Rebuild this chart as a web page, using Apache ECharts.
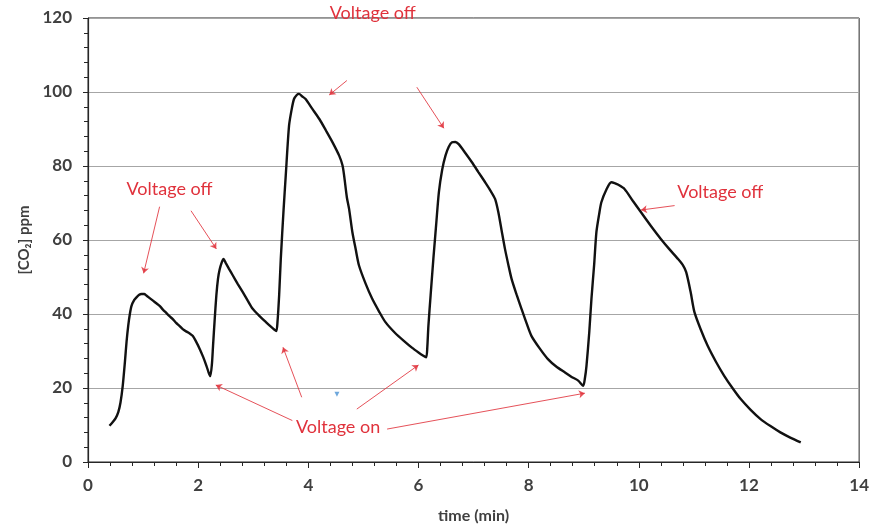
<!DOCTYPE html>
<html>
<head>
<meta charset="utf-8">
<script src="https://cdn.jsdelivr.net/npm/echarts@6/dist/echarts.min.js"></script>
<style>
  html, body { margin: 0; padding: 0; background: #fff; }
  #chart { width: 872px; height: 529px; }
</style>
</head>
<body>
<div id="chart"></div>
<script>
// CO2 concentration trace (time in minutes, concentration in ppm)
const timeMin = [
  0.39, 0.45, 0.50, 0.55, 0.59, 0.63, 0.67, 0.70, 0.73, 0.76, 0.79, 0.84, 0.88, 0.93, 0.97,
  1.02, 1.06, 1.12, 1.18, 1.24, 1.30, 1.36, 1.42, 1.48, 1.54, 1.60, 1.66, 1.72, 1.78, 1.84,
  1.90, 1.96, 2.03, 2.09, 2.15, 2.19, 2.22, 2.25, 2.27, 2.30, 2.33, 2.36, 2.39, 2.43, 2.46,
  2.50, 2.56, 2.63, 2.72, 2.81, 2.90, 2.99, 3.11, 3.23, 3.31, 3.38, 3.42, 3.44, 3.47, 3.50,
  3.55, 3.59, 3.65, 3.70, 3.74, 3.79, 3.83, 3.89, 3.95, 4.07, 4.20, 4.32, 4.44, 4.56, 4.62,
  4.65, 4.70, 4.74, 4.80, 4.86, 4.92, 5.04, 5.16, 5.28, 5.40, 5.58, 5.76, 5.88, 6.00, 6.08,
  6.14, 6.16, 6.18, 6.22, 6.27, 6.32, 6.37, 6.43, 6.49, 6.55, 6.61, 6.67, 6.73, 6.85, 6.97,
  7.09, 7.21, 7.30, 7.39, 7.45, 7.51, 7.57, 7.63, 7.69, 7.78, 7.87, 7.96, 8.05, 8.20, 8.35,
  8.50, 8.66, 8.78, 8.90, 8.99, 9.02, 9.05, 9.10, 9.14, 9.19, 9.23, 9.28, 9.32, 9.41, 9.50,
  9.56, 9.62, 9.74, 9.89, 10.04, 10.22, 10.40, 10.55, 10.71, 10.80, 10.86, 10.94, 11.01, 11.13, 11.25,
  11.40, 11.55, 11.70, 11.85, 12.03, 12.21, 12.39, 12.57, 12.75, 12.94
];
const co2Ppm = [
  9.8, 10.8, 11.8, 13.5, 16.1, 20.5, 27.0, 32.5, 36.8, 40.0, 42.2, 43.8, 44.5, 45.2, 45.4,
  45.4, 45.0, 44.3, 43.6, 42.9, 42.2, 41.2, 40.3, 39.4, 38.6, 37.6, 36.8, 35.9, 35.3, 34.8,
  34.1, 32.6, 30.5, 28.4, 26.0, 24.2, 23.2, 26.5, 31.4, 38.5, 45.0, 49.5, 52.0, 54.0, 54.9,
  53.8, 52.2, 50.4, 48.1, 45.9, 43.6, 41.4, 39.5, 37.8, 36.7, 35.8, 35.4, 37.8, 45.0, 54.9,
  68.0, 77.4, 90.9, 95.5, 98.1, 99.2, 99.5, 98.8, 98.1, 95.5, 92.7, 89.6, 86.4, 82.8, 80.2,
  77.4, 71.5, 68.4, 62.1, 57.5, 53.1, 48.2, 44.1, 40.8, 37.8, 34.8, 32.4, 30.9, 29.6, 28.8,
  28.3, 31.0, 36.8, 45.0, 54.9, 64.0, 72.9, 79.0, 82.8, 85.2, 86.4, 86.5, 85.9, 83.5, 81.0,
  78.3, 75.6, 73.5, 71.1, 67.5, 62.5, 57.6, 53.4, 49.5, 45.3, 41.4, 37.6, 34.1, 30.7, 27.8,
  25.8, 24.2, 23.0, 22.0, 20.6, 22.5, 26.0, 35.0, 44.1, 53.5, 62.1, 67.0, 70.2, 73.6, 75.6,
  75.4, 75.0, 73.8, 70.6, 67.5, 63.8, 60.3, 57.6, 54.9, 53.2, 51.3, 46.0, 40.5, 35.6, 31.4,
  27.1, 23.3, 20.0, 17.0, 14.1, 11.6, 9.7, 8.0, 6.6, 5.3
];

// Annotation text anchors [time, ppm]; the upper one sits on the top edge and is lifted
const noteTexts = ['Voltage off', 'Voltage off', 'Voltage off', 'Voltage on'];
const noteAt = [[1.48, 73.8], [5.17, 120], [11.48, 73.0], [4.54, 9.5]];
const noteLift = [0, 5, 0, 0];

// Arrows: [from, to] in [time, ppm]
const arrowFrom = [
  [1.30, 69.0], [1.87, 67.9],
  [4.70, 103.1], [5.97, 101.3],
  [10.65, 69.3],
  [3.71, 11.2], [3.88, 17.5], [4.88, 14.3], [5.43, 8.9]
];
const arrowTo = [
  [1.01, 51.0], [2.33, 57.6],
  [4.38, 99.2], [6.46, 90.2],
  [10.04, 68.1],
  [2.32, 20.8], [3.54, 31.0], [6.00, 26.2], [9.02, 18.6]
];

const xTicks = { min: 0, max: 14, step: 2 };
const yTicks = { min: 0, max: 120, step: 20 };

const RED = '#e0323c';
const AXIS_TEXT = '#404040';

const chart = echarts.init(document.getElementById('chart'), null, { renderer: 'canvas' });

const seriesData = timeMin.map((t, i) => [t, co2Ppm[i]]);

chart.setOption({
  animation: false,
  backgroundColor: '#ffffff',
  grid: {
    left: 88, right: 10, top: 18, bottom: 66,
    show: true, borderColor: '#262626', borderWidth: 1, backgroundColor: 'transparent'
  },
  xAxis: {
    type: 'value',
    min: xTicks.min, max: xTicks.max, interval: xTicks.step,
    name: 'time (min)',
    nameLocation: 'middle',
    nameGap: 46,
    nameTextStyle: { fontFamily: 'Lato', fontWeight: 'bold', fontSize: 16, color: AXIS_TEXT },
    axisLine: { lineStyle: { color: '#262626', width: 1.2 } },
    axisTick: { show: true, length: 6, lineStyle: { color: '#262626' } },
    minorTick: { show: true, splitNumber: 5, length: 4, lineStyle: { color: '#262626' } },
    axisLabel: { margin: 15, fontFamily: 'Lato', fontWeight: 'bold', fontSize: 17, color: AXIS_TEXT },
    splitLine: { show: false }
  },
  yAxis: {
    type: 'value',
    min: yTicks.min, max: yTicks.max, interval: yTicks.step,
    name: '[CO\u2082] ppm',
    nameLocation: 'middle',
    nameGap: 54,
    nameRotate: 90,
    nameTextStyle: { fontFamily: 'Lato', fontWeight: 'bold', fontSize: 15, color: AXIS_TEXT },
    axisLine: { show: true, lineStyle: { color: '#262626', width: 1.2 } },
    axisTick: { show: true, length: 5, lineStyle: { color: '#262626' } },
    minorTick: { show: true, splitNumber: 5, length: 4, lineStyle: { color: '#262626' } },
    axisLabel: { margin: 16, fontFamily: 'Lato', fontWeight: 'bold', fontSize: 17, color: AXIS_TEXT },
    splitLine: { show: true, lineStyle: { color: '#a6a6a6', width: 1.2 } }
  },
  series: [
    {
      type: 'line',
      data: seriesData,
      showSymbol: false,
      smooth: 0.25,
      lineStyle: { color: '#111111', width: 2.4 },
      z: 3,
      markLine: {
        silent: true,
        symbol: ['none', 'arrow'],
        symbolSize: 6,
        label: { show: false },
        lineStyle: { color: RED, width: 1, type: 'solid', opacity: 0.85 },
        data: arrowFrom.map((p, i) => [{ coord: p }, { coord: arrowTo[i] }])
      },
      markPoint: {
        silent: true,
        data: noteTexts.map((txt, i) => ({
          coord: noteAt[i],
          symbol: 'circle',
          symbolSize: 1,
          itemStyle: { color: 'rgba(0,0,0,0)' },
          label: {
            show: true,
            position: 'inside',
            offset: [0, -noteLift[i]],
            formatter: txt,
            fontFamily: 'Lato',
            fontSize: 18,
            color: RED
          }
        })).concat([{
          coord: [4.52, 18.3],
          symbol: 'triangle',
          symbolRotate: 180,
          symbolSize: 5,
          itemStyle: { color: '#6fa8dc' },
          label: { show: false }
        }])
      }
    }
  ]
});
</script>
</body>
</html>
